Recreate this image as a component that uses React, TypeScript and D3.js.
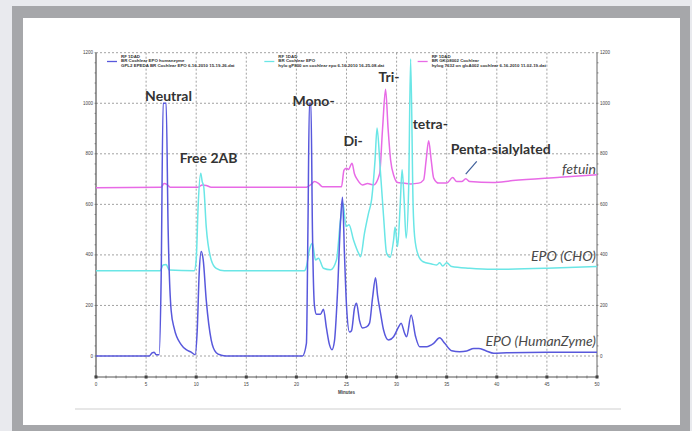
import React from 'react';
import * as d3 from 'd3';

// retention time (min), signal
const humanZyme: [number, number][] = [
  [0, 0], [5.3, 0], [5.6, 12], [5.8, 15], [6.0, 5], [6.3, 5], [6.5, 300], [6.7, 1000], [7.0, 1000],
  [7.2, 500], [7.5, 180], [7.8, 110], [8.5, 45], [9.0, 25], [9.5, 15], [9.9, 5], [10.1, 100],
  [10.3, 330], [10.5, 413], [10.7, 380], [11.0, 222], [11.5, 63], [12.0, 13], [12.5, 3], [13, 0],
  [20.6, 0], [21.0, 50], [21.15, 500], [21.3, 1000], [21.45, 1000], [21.6, 500], [21.8, 200],
  [22.0, 165], [22.4, 165], [22.7, 185], [23.0, 110], [23.3, 45], [23.55, 25], [23.8, 60],
  [24.1, 250], [24.4, 530], [24.6, 628], [24.8, 400], [25.0, 200], [25.3, 95], [25.5, 100],
  [25.8, 190], [26.0, 209], [26.3, 140], [26.6, 111], [27.0, 115], [27.3, 130], [27.6, 230],
  [27.9, 310], [28.1, 240], [28.4, 169], [28.7, 103], [29.2, 63], [29.7, 76], [30.2, 115],
  [30.45, 130], [30.8, 90], [31.0, 76], [31.45, 162], [31.9, 76], [32.3, 37], [33.0, 37],
  [33.7, 50], [34.3, 72], [34.8, 50], [35.5, 21], [36.3, 17], [37.0, 20], [37.7, 30], [38.2, 30],
  [38.9, 21], [39.7, 11], [41, 13], [45, 15], [50, 15],
];

const epoCho: [number, number][] = [
  [0, 337], [6.4, 337], [6.7, 360], [7.0, 362], [7.3, 340], [9.8, 337], [10.0, 380], [10.2, 600],
  [10.45, 723], [10.6, 690], [10.75, 670], [11.0, 512], [11.5, 380], [12.0, 347], [12.8, 337],
  [20.8, 337], [21.0, 354], [21.3, 420], [21.6, 446], [21.9, 380], [22.2, 387], [22.7, 347],
  [23.4, 341], [24.0, 380], [24.4, 539], [24.65, 605], [24.95, 512], [25.25, 519], [25.7, 459],
  [26.2, 407], [26.4, 393], [26.8, 487], [27.2, 565], [27.5, 618], [27.85, 776], [28.05, 902],
  [28.35, 750], [28.7, 552], [29.0, 407], [29.35, 391], [29.7, 459], [29.85, 510], [30.1, 433],
  [30.35, 591], [30.55, 737], [30.75, 618], [30.95, 466], [31.2, 657], [31.4, 1175], [31.65, 591],
  [31.8, 472], [32.15, 400], [32.65, 373], [33.5, 364], [34.0, 360], [34.3, 369], [34.6, 356],
  [35.0, 369], [35.5, 354], [37.3, 347], [39.6, 343], [45, 347], [50, 354],
];

const fetuin: [number, number][] = [
  [0, 666], [6.5, 668], [6.8, 682], [7.1, 678], [7.4, 668], [10.2, 668], [10.6, 677], [11.0, 675],
  [11.5, 668], [21.0, 668], [21.5, 680], [21.8, 690], [22.2, 683], [22.6, 670], [24.5, 670],
  [24.75, 735], [25.0, 743], [25.2, 738], [25.55, 763], [25.8, 720], [26.1, 697], [26.6, 677],
  [27.1, 682], [27.7, 677], [28.3, 720], [28.6, 900], [28.9, 1055], [29.15, 900], [29.4, 776],
  [29.75, 710], [30.1, 686], [30.7, 684], [31.4, 681], [32.2, 684], [32.7, 697], [32.95, 776],
  [33.2, 852], [33.45, 776], [33.7, 704], [34.2, 684], [35.0, 684], [35.6, 706], [36.0, 690],
  [36.5, 690], [36.9, 701], [37.3, 690], [39.6, 686], [41.6, 694], [46.3, 707], [50, 717],
];

const xTicks = [0, 5, 10, 15, 20, 25, 30, 35, 40, 45, 50];
const yTicks = [0, 200, 400, 600, 800, 1000, 1200];

const legendLines = [
  ['RF 1DAD', 'BR Cochlear EPO humanzyme', 'GPL2 EPEDA BR Cochlear EPO 6-16-2010 15-19-26.dat'],
  ['RF 1DAD', 'BR Cochlear EPO', 'hylo gP800 on cochlear epo 6-16-2010 16-25-08.dat'],
  ['RF 1DAD', 'BR GKG8002 Cochlear', 'hylog 7632 on glcA002 cochlear 6-16-2010 11-02-19.dat'],
];

const peakLabels = [
  { text: 'Neutral', t: 4.9, v: 1010 },
  { text: 'Free 2AB', t: 8.35, v: 765 },
  { text: 'Mono-', t: 19.6, v: 990 },
  { text: 'Di-', t: 24.7, v: 830 },
  { text: 'Tri-', t: 28.2, v: 1085 },
  { text: 'tetra-', t: 31.6, v: 900 },
  { text: 'Penta-sialylated', t: 35.4, v: 800 },
];

const traceLabels = [
  { text: 'fetuin', v: 720 },
  { text: 'EPO (CHO)', v: 375 },
  { text: 'EPO (HumanZyme)', v: 40 },
];

const colors = { zyme: '#5858dc', cho: '#6ae6e6', fetuin: '#e86ae6' };

export default function App() {
  const x = d3.scaleLinear().domain([0, 50]).range([96, 597]);
  const y = d3.scaleLinear().domain([0, 1200]).range([356, 52.7]);
  const yBottom = y(-83);

  const line = d3
    .line<[number, number]>()
    .x(d => x(d[0]))
    .y(d => y(d[1]))
    .curve(d3.curveMonotoneX);

  const minorX = d3.range(0, 50.01, 1);
  const minorY = d3.range(-80, 1200.1, 40);

  return (
    <div style={{ position: 'absolute', left: 0, top: 0 }}>
      <svg width={692} height={431} style={{ display: 'block' }}>
        <rect width={692} height={431} fill="#e9eaee" />
        <rect x={12} y={6} width={678} height={431} fill="#a6a7aa" />
        <rect x={23} y={18} width={657} height={407} fill="#ffffff" />

        {/* grid */}
        <g stroke="#8a8a8a" strokeWidth={0.8} strokeDasharray="2,2">
          {xTicks.slice(1, -1).map(t => (
            <line key={'gx' + t} x1={x(t)} x2={x(t)} y1={y(1200)} y2={yBottom} />
          ))}
          {yTicks.map(t => (
            <line key={'gy' + t} x1={x(0)} x2={x(50)} y1={y(t)} y2={y(t)} />
          ))}
        </g>

        {/* axes */}
        <g stroke="#555" strokeWidth={1.2}>
          <line x1={x(0)} x2={x(0)} y1={y(1200)} y2={yBottom} />
          <line x1={x(50)} x2={x(50)} y1={y(1200)} y2={yBottom} strokeWidth={0.9} />
          <line x1={x(0)} x2={x(50)} y1={yBottom} y2={yBottom} />
          {minorX.map(t => (
            <line key={'mx' + t} x1={x(t)} x2={x(t)} y1={yBottom - 1.5} y2={yBottom + 1.5} strokeWidth={0.6} />
          ))}
          {minorY.map(t => (
            <g key={'my' + t}>
              <line x1={x(0) - 1.5} x2={x(0)} y1={y(t)} y2={y(t)} strokeWidth={0.6} />
              <line x1={x(50)} x2={x(50) + 1.5} y1={y(t)} y2={y(t)} strokeWidth={0.6} />
            </g>
          ))}
          {xTicks.map(t => (
            <rect key={'xt' + t} x={x(t) - 1.5} y={yBottom - 1.5} width={3} height={3} fill="#444" stroke="none" />
          ))}
        </g>

        {/* tick labels */}
        <g fontFamily="Liberation Sans, sans-serif" fontSize={4.5} fill="#444">
          {yTicks.map(t => (
            <text key={'yl' + t} x={x(0) - 3} y={y(t) + 1.5} textAnchor="end">{t}</text>
          ))}
          {yTicks.map(t => (
            <text key={'yr' + t} x={x(50) + 3} y={y(t) + 1.5}>{t}</text>
          ))}
          {xTicks.map(t => (
            <text key={'xl' + t} x={x(t)} y={yBottom + 9} textAnchor="middle">{t}</text>
          ))}
          <text x={x(25)} y={yBottom + 17} textAnchor="middle" fontWeight="bold">Minutes</text>
        </g>

        {/* legend */}
        <g fontFamily="Liberation Sans, sans-serif" fontSize={4.4} fill="#333" fontWeight="bold">
          {legendLines.map((lines, i) => {
            const lx = [x(1.1), x(16.8), x(32.1)][i];
            const c = [colors.zyme, colors.cho, colors.fetuin][i];
            return (
              <g key={'lg' + i}>
                <line x1={lx} x2={lx + 10} y1={61.5} y2={61.5} stroke={c} strokeWidth={1.3} />
                {lines.map((s, j) => (
                  <text key={j} x={lx + 14} y={57.5 + j * 4.6}>{s}</text>
                ))}
              </g>
            );
          })}
        </g>

        {/* traces */}
        <g fill="none" strokeWidth={1.5} strokeLinejoin="round">
          <path d={line(fetuin) ?? ''} stroke={colors.fetuin} />
          <path d={line(epoCho) ?? ''} stroke={colors.cho} />
          <path d={line(humanZyme) ?? ''} stroke={colors.zyme} />
        </g>

        {/* peak annotations */}
        <g fontFamily="Lato, sans-serif" fontWeight="bold" fontSize={14} fill="#333">
          {peakLabels.map(p => (
            <text key={p.text} x={x(p.t)} y={y(p.v)}>{p.text}</text>
          ))}
        </g>
        <line x1={x(36.9)} y1={y(720)} x2={x(38.0)} y2={y(770)} stroke="#3f5f9a" strokeWidth={1.2} />

        {/* trace names */}
        <g fontFamily="Lato, sans-serif" fontStyle="italic" fontSize={14} fill="#4a4a4a" textAnchor="end">
          {traceLabels.map(l => (
            <text key={l.text} x={x(49.9)} y={y(l.v)}>{l.text}</text>
          ))}
        </g>

        <line x1={75} x2={621} y1={409} y2={409} stroke="#cfcfcf" strokeWidth={1.2} />
      </svg>
    </div>
  );
}
